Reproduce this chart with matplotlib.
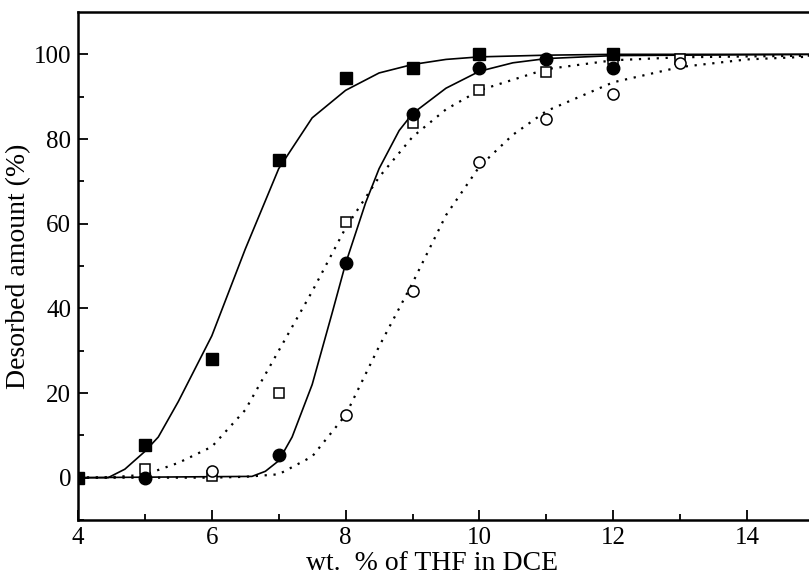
import matplotlib.pyplot as plt
import numpy as np

# measured points
x_sq_f = [4, 5, 6, 7, 8, 9, 10, 12]
y_sq_f = [0, 7.6, 28, 75, 94.5, 96.8, 100, 100]

x_ci_f = [5, 7, 8, 9, 10, 11, 12]
y_ci_f = [0, 5.3, 50.6, 86, 96.7, 99, 96.8]

x_sq_o = [5, 6, 7, 8, 9, 10, 11, 12, 13]
y_sq_o = [2, 0.5, 20, 60.5, 83.8, 91.5, 95.8, 98.8, 99]

x_ci_o = [6, 8, 9, 10, 11, 12, 13]
y_ci_o = [1.5, 14.8, 44, 74.5, 84.8, 90.6, 97.9]

# fitted curves
cx_sq_f = [4, 4.45, 4.7, 5, 5.2, 5.5, 6, 6.5, 7, 7.5, 8, 8.5, 9, 9.5, 10, 11, 12, 15]
cy_sq_f = [0, 0, 2, 6.2, 9.6, 18, 33.5, 54, 73, 85, 91.5, 95.6, 97.6, 98.8, 99.4, 99.8, 100, 100]

cx_ci_f = [4, 6.6, 6.8, 7, 7.2, 7.5, 7.8, 8, 8.3, 8.5, 8.8, 9, 9.5, 10, 10.5, 11, 12, 15]
cy_ci_f = [0, 0.3, 1.5, 4, 9.6, 22, 39, 50.6, 65, 73, 82, 86, 92, 96, 98, 99, 99.7, 100]

cx_sq_o = [4, 4.5, 5, 5.5, 6, 6.5, 7, 7.5, 8, 8.5, 9, 9.5, 10, 11, 12, 13, 15]
cy_sq_o = [0, 0.1, 0.7, 3.5, 7.3, 16, 30, 44, 59, 71, 80.5, 87, 91.5, 96.5, 98.6, 99.3, 99.7]

cx_ci_o = [4, 6, 6.5, 7, 7.5, 8, 8.5, 9, 9.5, 10, 10.5, 11, 12, 13, 14, 15]
cy_ci_o = [0, 0, 0.2, 0.8, 5, 14.8, 31, 46, 62, 73.5, 81, 86.6, 93.4, 97, 98.8, 99.5]

plt.rcParams['font.family'] = ['Liberation Serif', 'DejaVu Serif']

fig = plt.figure(figsize=(8.09, 5.76), dpi=100)
ax = fig.add_axes([78 / 809, 1 - 520 / 576, 736 / 809, 508 / 576])

ax.plot(cx_sq_f, cy_sq_f, color='black', lw=1.2)
ax.plot(cx_ci_f, cy_ci_f, color='black', lw=1.2)
ax.plot(cx_sq_o, cy_sq_o, color='black', lw=1.6, ls=(0, (1, 3)))
ax.plot(cx_ci_o, cy_ci_o, color='black', lw=1.6, ls=(0, (1, 3)))

ax.plot(x_sq_o, y_sq_o, 's', ms=7.5, mfc='white', mec='black', mew=1.1, ls='none')
ax.plot(x_ci_o, y_ci_o, 'o', ms=8, mfc='white', mec='black', mew=1.1, ls='none')
ax.plot(x_ci_f, y_ci_f, 'o', ms=9, color='black', ls='none')
ax.plot(x_sq_f, y_sq_f, 's', ms=9, color='black', ls='none')

ax.set_xlim(4, 15)
ax.set_ylim(-10, 110)
ax.set_xticks([4, 6, 8, 10, 12, 14])
ax.set_xticks([5, 7, 9, 11, 13], minor=True)
ax.set_yticks([0, 20, 40, 60, 80, 100])
ax.set_yticks([-10, 10, 30, 50, 70, 90], minor=True)
ax.tick_params(which='major', direction='in', length=7, width=1.3, labelsize=18, pad=5)
ax.tick_params(which='minor', direction='in', length=4, width=1.3)
ax.tick_params(top=False, right=False)

for s in ['left', 'bottom', 'top']:
    ax.spines[s].set_linewidth(1.8)
ax.spines['right'].set_visible(False)

ax.set_xlabel('wt.  % of THF in DCE', fontsize=20)
ax.set_ylabel('Desorbed amount (%)', fontsize=20)
ax.xaxis.set_label_coords(0.481, -0.062)
ax.yaxis.set_label_coords(-0.064, 0.5)

fig.savefig('out.png', dpi=100)
